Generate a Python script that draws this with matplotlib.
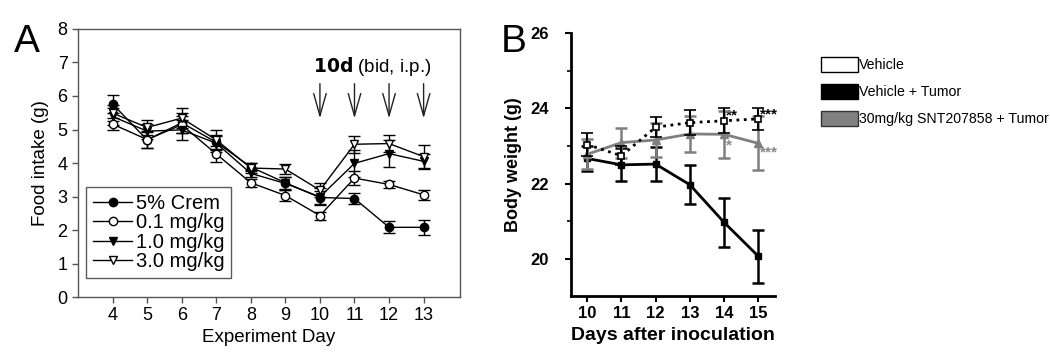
import matplotlib
matplotlib.use("Agg")
import matplotlib.pyplot as plt
from matplotlib.patches import Patch
from matplotlib.lines import Line2D

plt.rcParams['font.family'] = ['Liberation Sans', 'DejaVu Sans']

# ---------------- Panel A data ----------------
days_a = [4, 5, 6, 7, 8, 9, 10, 11, 12, 13]
crem = [5.76, 4.69, 5.20, 4.62, 3.88, 3.41, 2.97, 2.94, 2.08, 2.08]
crem_err = [0.27, 0.25, 0.30, 0.20, 0.12, 0.18, 0.20, 0.17, 0.18, 0.23]
d01 = [5.16, 4.70, 5.14, 4.27, 3.41, 3.03, 2.43, 3.55, 3.36, 3.05]
d01_err = [0.18, 0.25, 0.25, 0.25, 0.12, 0.17, 0.12, 0.20, 0.10, 0.15]
d10 = [5.39, 4.95, 4.99, 4.59, 3.69, 3.39, 2.99, 3.99, 4.28, 4.05]
d10_err = [0.25, 0.22, 0.30, 0.25, 0.10, 0.20, 0.25, 0.40, 0.40, 0.22]
d30 = [5.49, 5.06, 5.34, 4.69, 3.85, 3.82, 3.19, 4.56, 4.58, 4.19]
d30_err = [0.25, 0.22, 0.30, 0.30, 0.15, 0.15, 0.20, 0.25, 0.25, 0.35]
labels_a = ["5% Crem", "0.1 mg/kg", "1.0 mg/kg", "3.0 mg/kg"]
arrow_days = [10, 11, 12, 13]

# ---------------- Panel B data ----------------
days_b = [10, 11, 12, 13, 14, 15]
vehicle = [23.04, 22.74, 23.50, 23.62, 23.67, 23.72]
vehicle_err = [0.30, 0.25, 0.26, 0.33, 0.33, 0.30]
veh_tumor = [22.67, 22.50, 22.52, 21.97, 20.97, 20.07]
veh_tumor_err = [0.33, 0.44, 0.46, 0.52, 0.65, 0.70]
drug = [22.78, 23.09, 23.16, 23.32, 23.31, 23.07]
drug_err = [0.40, 0.40, 0.45, 0.48, 0.62, 0.72]
labels_b = ["Vehicle", "Vehicle + Tumor", "30mg/kg SNT207858 + Tumor"]

fig = plt.figure(figsize=(10.5, 3.57), dpi=100)

# ================= Panel A =================
axA = fig.add_axes([0.0743, 0.168, 0.3637, 0.7508])
common = dict(color='black', lw=1.0, ms=6, capsize=4, elinewidth=1.0, capthick=1.0, markeredgecolor='black', markeredgewidth=1.0)
axA.errorbar(days_a, crem, yerr=crem_err, marker='o', mfc='black', **common)
axA.errorbar(days_a, d01, yerr=d01_err, marker='o', mfc='white', **common)
axA.errorbar(days_a, d10, yerr=d10_err, marker='v', mfc='black', **common)
axA.errorbar(days_a, d30, yerr=d30_err, marker='v', mfc='white', **common)
axA.set_xlim(3, 14.05)
axA.set_ylim(0, 8)
axA.set_xticks(days_a)
axA.set_yticks(range(0, 9))
axA.tick_params(direction='out', labelsize=13, length=4, width=1, color='#555555')
for s in axA.spines.values():
    s.set_color('#555555')
    s.set_linewidth(1.0)
axA.set_xlabel("Experiment Day", fontsize=13.5, labelpad=3)
axA.set_ylabel("Food intake (g)", fontsize=13.5, labelpad=6)
for d in arrow_days:
    axA.annotate("", xy=(d, 5.25), xytext=(d, 6.45),
                 arrowprops=dict(arrowstyle='->,head_length=1.6,head_width=0.45', color='#222222', lw=1.0))
axA.text(11.5, 6.88, r"$\bf{10d}$ (bid, i.p.)", ha='center', va='center', fontsize=13.5)
handlesA = [Line2D([], [], color='black', lw=1, marker='o', mfc='black', mec='black', ms=6),
            Line2D([], [], color='black', lw=1, marker='o', mfc='white', mec='black', ms=6),
            Line2D([], [], color='black', lw=1, marker='v', mfc='black', mec='black', ms=6),
            Line2D([], [], color='black', lw=1, marker='v', mfc='white', mec='black', ms=6)]
legA = axA.legend(handlesA, labels_a, loc='lower left', bbox_to_anchor=(0.022, 0.07),
                  fontsize=14.5, frameon=True, fancybox=False, edgecolor='#333333',
                  handlelength=1.9, labelspacing=0.02, borderpad=0.35, handletextpad=0.2,
                  borderaxespad=0)
legA.get_frame().set_linewidth(1.0)
fig.text(0.013, 0.854, "A", fontsize=28, ha='left', va='baseline')

# ================= Panel B =================
axB = fig.add_axes([0.5435, 0.171, 0.1945, 0.7366])
axB.errorbar(days_b, veh_tumor, yerr=veh_tumor_err, color='black', lw=2.0, marker='s', ms=5,
             mfc='black', mec='black', capsize=4, elinewidth=1.8, capthick=1.8, zorder=3)
axB.errorbar(days_b, drug, yerr=drug_err, color='#7f7f7f', lw=2.0, marker='^', ms=6,
             mfc='#7f7f7f', mec='#7f7f7f', capsize=4, elinewidth=1.8, capthick=1.8, zorder=4)
axB.errorbar(days_b, vehicle, yerr=vehicle_err, color='black', lw=2.0, ls=':', marker='s', ms=5,
             mfc='white', mec='black', mew=1.2, capsize=4, elinewidth=1.5, capthick=1.5, zorder=5)
axB.set_xlim(9.52, 15.48)
axB.set_ylim(19.02, 26)
axB.set_xticks(days_b)
axB.set_yticks([20, 22, 24, 26])
axB.set_yticks([21, 23, 25], minor=True)
axB.tick_params(direction='out', labelsize=12, length=4, width=1.5)
axB.tick_params(which='minor', direction='out', length=3, width=1.2)
for lab in axB.get_xticklabels() + axB.get_yticklabels():
    lab.set_fontweight('bold')
axB.tick_params(axis='y', pad=12)
for s in ['top', 'right']:
    axB.spines[s].set_visible(False)
for s in ['left', 'bottom']:
    axB.spines[s].set_linewidth(2.0)
axB.set_xlabel("Days after inoculation", fontsize=14, fontweight='bold', labelpad=4)
axB.set_ylabel("Body weight (g)", fontsize=13, fontweight='bold', labelpad=6)
# significance stars
axB.text(14.05, vehicle[4] + 0.15, "**", fontsize=11, fontweight='bold', color='black', va='center')
axB.text(15.05, vehicle[5] + 0.12, "***", fontsize=11, fontweight='bold', color='black', va='center', clip_on=False)
axB.text(14.05, drug[4] - 0.3, "*", fontsize=11, fontweight='bold', color='#888888', va='center')
axB.text(15.05, drug[5] - 0.25, "***", fontsize=11, fontweight='bold', color='#888888', va='center', clip_on=False)

handlesB = [Patch(facecolor='white', edgecolor='black', lw=1.0),
            Patch(facecolor='black', edgecolor='black', lw=1.0),
            Patch(facecolor='#808080', edgecolor='#333333', lw=1.0)]
fig.legend(handlesB, labels_b, loc='upper left', bbox_to_anchor=(0.782, 0.84),
           fontsize=10.2, frameon=False, handlelength=2.6, handleheight=1.2,
           labelspacing=0.85, handletextpad=0.05, borderpad=0, borderaxespad=0)
fig.text(0.477, 0.854, "B", fontsize=28, ha='left', va='baseline')

fig.savefig("out.png", dpi=100)
